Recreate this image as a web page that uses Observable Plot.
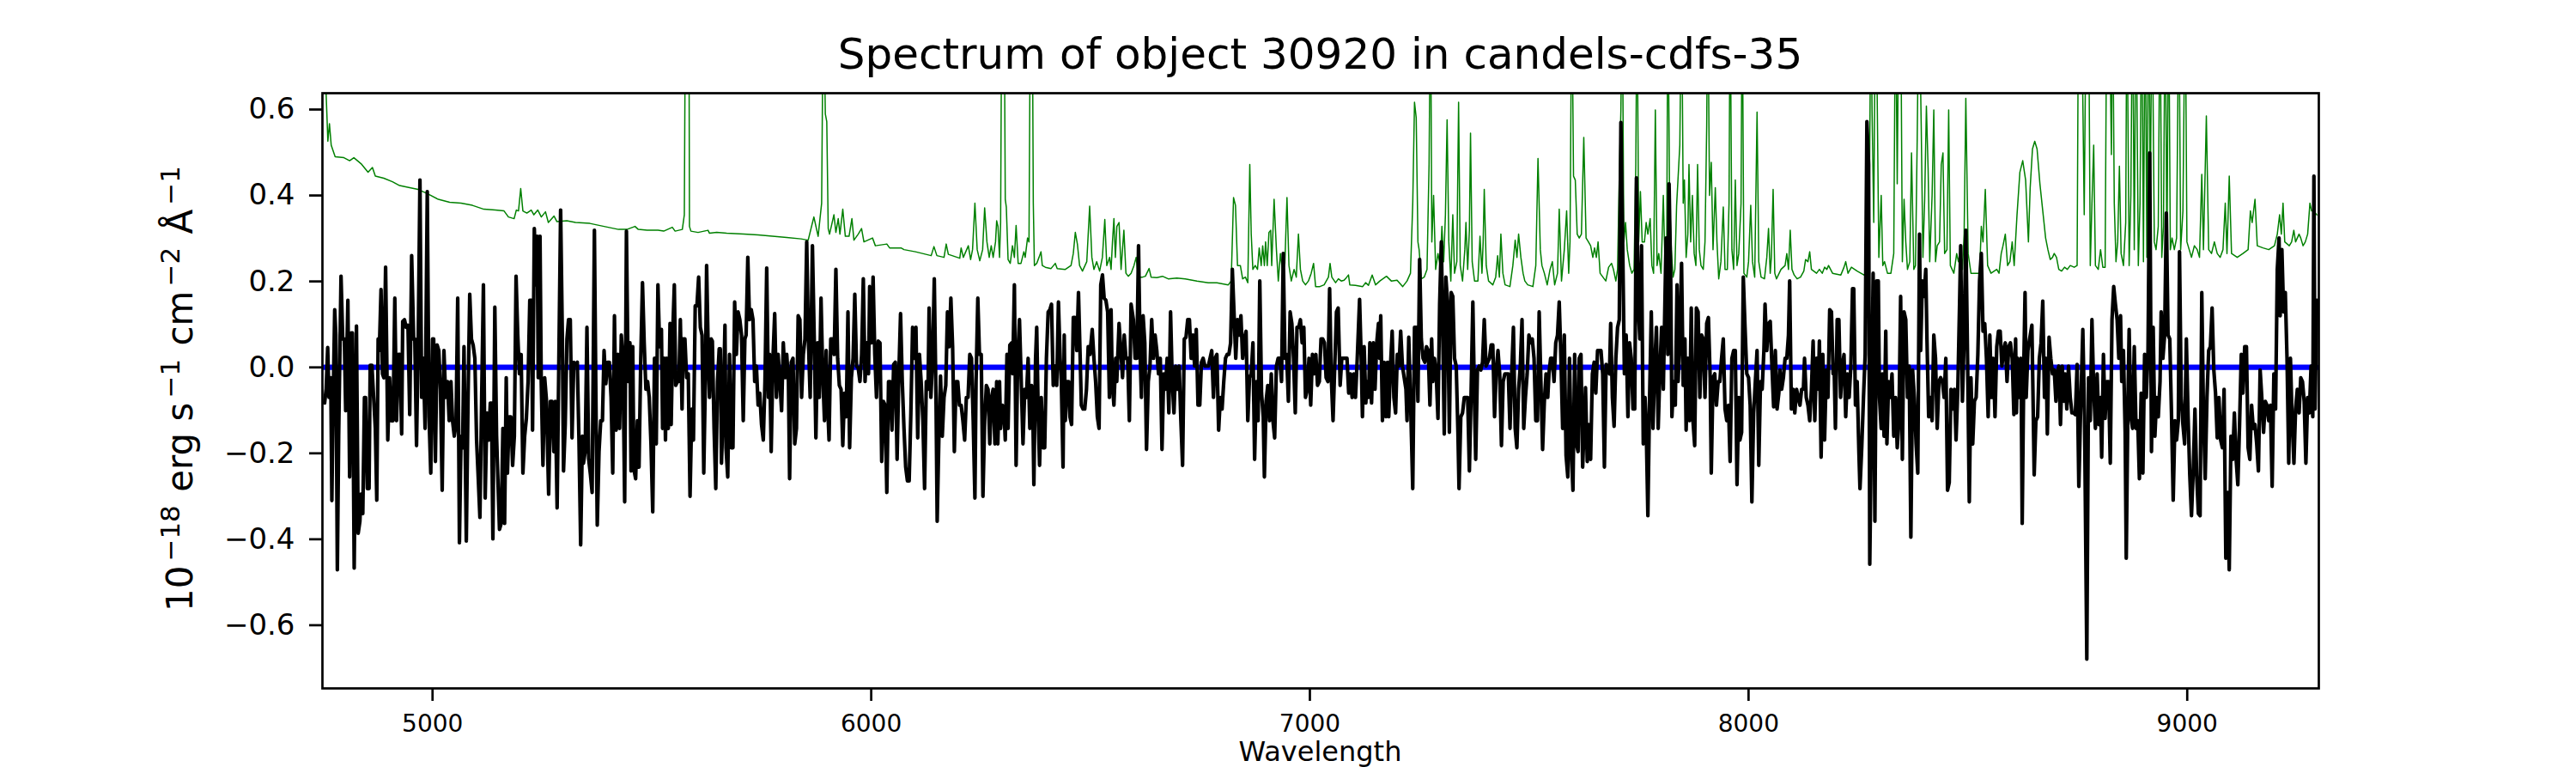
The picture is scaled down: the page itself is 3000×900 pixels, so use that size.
<!DOCTYPE html>
<html><head><meta charset="utf-8">
<script src="https://cdn.jsdelivr.net/npm/d3@7"></script>
<script src="https://cdn.jsdelivr.net/npm/@observablehq/plot@0.6"></script>
<style>html,body{margin:0;padding:0;background:#fff;} svg{display:block;}</style>
</head><body><div id="chart"></div><script>
// Observed flux (black), [wavelength Å, flux 1e-18 erg/s/cm2/Å]
const fluxPoints = [
[4754,-0.083],[4757.5,-0.05],[4761,0.046],[4764,-0.07],[4768,-0.024],[4770.5,-0.31],[4773,-0.106],[4777,0.134],[4779.6,0.075],[4783,-0.471],[4786,-0.16],[4791.4,0.212],[4795.3,0.066],[4799,0.066],[4802,-0.101],[4807,0.156],[4811,-0.255],[4815,0.08],[4817.4,0.08],[4821.4,-0.467],[4826.6,0.096],[4830.5,-0.386],[4834.4,-0.358],[4837,-0.295],[4841,-0.34],[4844.8,-0.07],[4847.4,-0.07],[4851.3,-0.282],[4855.3,-0.282],[4857.9,0.005],[4861.8,0.005],[4865.7,-0.07],[4869.6,-0.142],[4872.9,-0.309],[4876,0.066],[4878.7,0.039],[4882.6,0.181],[4886,-0.015],[4889,-0.024],[4893,0.233],[4895.7,0.021],[4898,-0.169],[4902,-0.024],[4906,-0.124],[4910,-0.124],[4914,0.161],[4918,-0.124],[4922,0.03],[4925.7,0.03],[4929.6,-0.155],[4932,0.107],[4936,0.111],[4940,0.093],[4944,0.098],[4948,-0.11],[4952.4,0.26],[4957,0.066],[4959.6,0.066],[4963.5,-0.182],[4967.4,0.066],[4971.3,0.436],[4975.2,-0.07],[4979,0.021],[4983,-0.142],[4988,0.409],[4992,-0.115],[4996,-0.246],[5000,0.066],[5002.6,0.066],[5006.5,-0.219],[5010.4,0.052],[5014.3,0.039],[5018,-0.051],[5022,-0.286],[5026,0.039],[5030,-0.07],[5034,-0.033],[5038,-0.124],[5042,-0.033],[5045.6,-0.124],[5049.6,-0.16],[5053.5,-0.133],[5057.4,0.161],[5061.3,-0.408],[5065,-0.16],[5068.5,-0.187],[5071.7,0.048],[5077,-0.404],[5081,-0.07],[5084.8,0.17],[5088.7,0.066],[5092.6,0.052],[5096.5,0.021],[5100.4,-0.169],[5104.3,-0.259],[5108,-0.349],[5112,-0.07],[5116,0.192],[5120,-0.304],[5124,-0.106],[5127.8,-0.169],[5131.7,-0.083],[5134.3,-0.083],[5137.6,-0.399],[5142,0.14],[5146,-0.16],[5148.7,-0.25],[5152.6,-0.377],[5156.5,-0.363],[5160.4,-0.142],[5164.3,-0.363],[5168,-0.024],[5170.8,-0.246],[5174.7,-0.115],[5178.6,-0.115],[5182.6,-0.228],[5186.5,-0.16],[5190.4,0.212],[5194.3,0.075],[5198,-0.015],[5202,0.03],[5206,-0.246],[5210,-0.16],[5213.9,-0.119],[5217.8,-0.033],[5221.7,0.156],[5225.6,0.156],[5228,-0.146],[5232,0.323],[5236,0.192],[5238.6,0.305],[5241,-0.024],[5245,0.305],[5247.8,-0.033],[5251.7,-0.228],[5255.6,-0.024],[5259.5,-0.074],[5264.7,-0.295],[5268.6,-0.079],[5272.5,-0.079],[5276.4,-0.196],[5280,-0.079],[5284,-0.327],[5288,0.021],[5292,0.366],[5296,0.066],[5298.6,-0.241],[5302.5,-0.133],[5306.4,0.066],[5310,0.111],[5314,0.111],[5318,-0.164],[5322,0.012],[5326,0.007],[5330,0.012],[5333.8,-0.169],[5337.7,-0.413],[5341.6,-0.16],[5344,-0.223],[5348,-0.196],[5352,0.093],[5356,-0.214],[5360,-0.25],[5363.8,-0.291],[5369,0.319],[5373,-0.133],[5375.5,-0.367],[5379.5,-0.196],[5383.4,-0.124],[5387.3,-0.124],[5391,0.039],[5395,-0.038],[5399,0.012],[5403,0.012],[5407,-0.07],[5410.8,-0.246],[5414.7,0.12],[5418.6,-0.146],[5422.5,0.03],[5426.4,-0.142],[5430.3,0.075],[5434,0.021],[5438,-0.313],[5442,0.317],[5446,-0.033],[5450,0.057],[5452.5,-0.241],[5456.4,0.048],[5459,-0.237],[5463,-0.259],[5467,-0.124],[5470.7,-0.232],[5474.7,0.021],[5478.6,0.197],[5482.5,0.057],[5486.4,-0.051],[5490.3,-0.033],[5494,-0.07],[5498,-0.178],[5502,-0.336],[5506,0.021],[5510,-0.178],[5513.8,0.192],[5517.7,0.048],
[5521.8,0.088],[5524.4,-0.142],[5528.3,0.021],[5531,-0.169],[5533.6,0.021],[5537.5,-0.142],[5541.4,0.102],[5544,-0.133],[5548,0.093],[5551.2,0.192],[5554.4,-0.042],[5558.3,-0.033],[5561.6,-0.033],[5564.9,0.111],[5568.8,-0.097],[5571.4,0.066],[5575.3,0.066],[5579.2,-0.024],[5583,-0.015],[5587,-0.3],[5591,-0.097],[5594.8,-0.169],[5598.8,0.143],[5602.7,0.143],[5606.6,0.21],[5610.5,0.093],[5614.4,0.075],[5618.3,-0.246],[5622.2,-0.015],[5624.8,0.237],[5628.8,0.021],[5631.4,-0.07],[5635.3,0.066],[5637.9,0.061],[5641.8,-0.142],[5645.7,-0.282],[5649.6,-0.033],[5653.5,0.043],[5656,0.043],[5658.7,-0.223],[5662.7,-0.088],[5666.6,0.098],[5669,-0.187],[5673,-0.255],[5677,0.03],[5681,-0.187],[5684.8,-0.187],[5688.7,0.152],[5692.6,0.03],[5696.6,0.129],[5700.5,0.111],[5704.4,0.075],[5708.3,-0.124],[5712,0.066],[5714.8,0.075],[5718.7,0.256],[5722.6,0.111],[5726.6,0.134],[5730.5,0.111],[5734.4,-0.033],[5738.3,0.003],[5742.2,-0.088],[5746,-0.06],[5750,-0.133],[5754,-0.169],[5757.8,-0.033],[5761.8,0.231],[5765.7,-0.07],[5768.3,0.03],[5772,-0.196],[5776,0.021],[5780,0.125],[5784,-0.07],[5787.8,0.03],[5791.8,-0.033],[5795.7,-0.101],[5799.6,0.057],[5803.5,-0.024],[5807.4,0.03],[5811.3,-0.033],[5814,-0.259],[5817.8,0.012],[5821.7,0.021],[5825.7,-0.178],[5829.6,-0.142],[5833.5,0.12],[5837.4,0.111],[5841.3,-0.07],[5845.2,0.03],[5849,0.066],[5853,0.292],[5857,0.057],[5860.9,-0.07],[5866,0.283],[5870,0.075],[5873.9,-0.164],[5877.8,0.057],[5881.7,-0.07],[5885.6,0.161],[5889.5,-0.015],[5893.5,-0.124],[5897.4,0.039],[5900,-0.07],[5903.9,-0.169],[5907.8,0.066],[5911.7,0.066],[5915.6,0.03],[5919.5,0.228],[5923.5,0.021],[5927.4,-0.042],[5931.3,-0.051],[5935.2,-0.182],[5939,-0.06],[5943,-0.115],[5947,0.129],[5950.8,-0.187],[5954.8,-0.024],[5958.7,0.021],[5962.6,0.17],[5966.5,0.003],[5970.4,-0.002],[5974.3,-0.033],[5978.2,0.03],[5982,0.206],[5986,-0.033],[5990,0.057],[5993.9,-0.015],[5996.5,0.188],[6000.4,0.057],[6004.3,0.21],[6008.2,0.03],[6012,-0.07],[6016,0.061],[6020,0.057],[6023.9,-0.219],[6027.8,-0.079],[6031.7,-0.088],[6035.6,-0.291],[6039.5,-0.033],[6043.4,-0.033],[6047.3,-0.146],[6051.2,0.007],[6055,0.012],[6059,-0.214],[6063,-0.015],[6066.9,0.125],[6070.8,-0.033],[6074.7,-0.142],[6078.6,-0.232],[6082.5,-0.264],[6086.5,-0.264],[6090.4,-0.106],[6094.3,0.093],[6098,0.021],[6102,0.093],[6106,-0.164],[6110,0.03],[6113.8,-0.033],[6117.8,-0.124],[6121.7,-0.282],[6125.6,-0.033],[6129.5,-0.051],[6132,0.138],[6136,-0.07],[6140,0.021],[6143.8,0.206],[6147.7,-0.07],[6150.4,-0.358],[6154.3,-0.16],[6158,-0.02],[6162,-0.16],[6166,-0.07],[6170,-0.042],[6173.8,0.129],[6177.7,0.048],[6181.6,0.161],[6185.6,0.048],[6189.5,-0.196],[6193.4,-0.033],[6197.3,-0.033],[6201.2,-0.088],[6205,-0.088],[6209,-0.124],[6213,-0.169],[6216.9,-0.07],[6220.8,-0.07],[6224.7,0.03],[6228.6,0.021],[6232.5,-0.124],[6236.4,-0.304],[6239,-0.033],[6243,0.161],[6246.8,0.03],[6250.8,0.03],[6254.7,-0.3],[6258.6,-0.124],[6262.5,-0.042],[6266.4,-0.051],[6270.3,-0.178],[6274.2,-0.07],[6278,-0.051],[6282,-0.178],
[6286,-0.033],[6288.6,-0.178],[6292.5,-0.033],[6295,-0.142],[6299,-0.088],[6303,-0.106],[6305.6,-0.169],[6309.5,0.03],[6312,-0.142],[6316,0.052],[6320,0.057],[6322.5,-0.015],[6326.4,0.192],[6330.3,-0.228],[6334,0.021],[6338,0.111],[6342,-0.033],[6346,-0.178],[6350,-0.051],[6353.8,-0.07],[6357.7,0.021],[6361.6,-0.142],[6365.5,-0.042],[6368,-0.07],[6370.8,-0.273],[6374.7,0.021],[6377.3,0.093],[6381,-0.124],[6383.8,-0.228],[6387.7,-0.07],[6391.6,-0.187],[6395.5,-0.187],[6399.4,0.021],[6403.4,0.129],[6407.3,0.134],[6411,0.147],[6415,-0.042],[6419,0.003],[6423,-0.042],[6426.8,0.152],[6430.7,0.021],[6433.4,-0.033],[6437.3,-0.232],[6440,0.075],[6442.5,-0.124],[6446.4,-0.033],[6450.3,-0.033],[6453,-0.115],[6456.8,-0.133],[6460.7,0.116],[6464.6,0.116],[6468.6,0.039],[6472.5,0.174],[6476.4,0.021],[6479,-0.088],[6483,-0.097],[6486.8,-0.097],[6490.7,-0.051],[6494.6,0.048],[6498.6,0.03],[6503.8,0.088],[6507.7,0.021],[6511.6,-0.033],[6515.5,-0.115],[6519.4,-0.142],[6523.3,0.192],[6527.2,0.215],[6531,0.161],[6535,0.156],[6539,0.129],[6543,-0.07],[6546.8,0.134],[6549.4,-0.033],[6553.3,-0.088],[6557.2,0.021],[6559.8,-0.033],[6565,0.102],[6569,0.039],[6573,-0.024],[6576.8,0.075],[6580.7,0.021],[6584.6,0.021],[6588.5,-0.124],[6592.4,0.147],[6597.7,0.111],[6601.6,0.021],[6605.5,0.021],[6609.4,0.283],[6613.3,0.021],[6616,-0.07],[6619.8,0.12],[6623.7,0.057],[6627.6,-0.191],[6631.6,-0.033],[6635.5,0.003],[6639.4,0.111],[6643.3,0.021],[6647.2,0.075],[6651,0.039],[6655,-0.015],[6659,0.021],[6662.9,-0.191],[6666.8,-0.015],[6670.7,-0.051],[6674.6,0.021],[6678.5,-0.106],[6682.4,0.129],[6686.3,-0.033],[6690.2,-0.106],[6694,0.003],[6698,-0.051],[6702,0.003],[6705.9,-0.124],[6709.8,-0.228],[6713.7,0.066],[6717.6,0.07],[6721.5,0.111],[6725.4,0.111],[6729.4,0.021],[6733.3,0.075],[6737.2,0.003],[6741,0.088],[6745,-0.088],[6749,-0.088],[6752.8,0.012],[6756.7,0.021],[6760.7,0.003],[6764.6,0.003],[6768.5,0.003],[6772.4,0.021],[6776.3,0.039],[6780.2,-0.07],[6784,0.021],[6788,0.03],[6792,-0.146],[6795.9,-0.07],[6799.8,-0.097],[6803.7,-0.033],[6807.6,0.021],[6811.5,0.03],[6815.4,0.03],[6819.3,0.057],[6823.2,0.228],[6827,0.129],[6831,0.021],[6835,0.111],[6838.9,0.075],[6842.8,0.12],[6846.7,0.021],[6850.6,0.066],[6854.5,0.084],[6858.5,-0.124],[6862.4,-0.024],[6866.3,-0.015],[6870.2,0.057],[6874,-0.214],[6878,-0.033],[6882,-0.124],[6885.8,0.201],[6889.8,-0.06],[6893.7,-0.115],[6896.3,-0.255],[6900.2,-0.079],[6904,-0.042],[6908,-0.124],[6912,-0.015],[6915.8,-0.124],[6919.7,-0.164],[6923.7,0.003],[6927.6,0.021],[6931.5,0.021],[6935.4,-0.033],[6939.3,0.265],[6943.2,0.021],[6947,0.03],[6951,-0.079],[6955,0.129],[6958.9,0.102],[6962.8,0.021],[6966.7,-0.106],[6970.6,0.093],[6974.5,0.093],[6978.4,0.111],[6982.3,0.057],[6986.2,0.093],[6990,-0.07],[6994,-0.051],[6998,0.021],[7001.9,-0.088],[7005.8,0.03],[7009.7,-0.015],[7013.6,0.03],[7017.5,-0.042],[7021.5,-0.033],[7025.4,0.066],[7029.3,0.066],[7033.2,0.057],[7037,-0.024],[7041,-0.033],[7045,0.183],[7048.8,-0.024],[7052.8,-0.124],[7056.7,0.003],[7060.6,0.129],[7064.5,0.138],
[7069,-0.042],[7072.8,0.021],[7080.7,0.021],[7084.6,0.021],[7088.5,-0.06],[7092.4,-0.015],[7096.3,-0.07],[7100.2,-0.015],[7104,-0.07],[7108,0.021],[7113.3,0.158],[7117,0.021],[7119.8,-0.115],[7123.7,0.048],[7127.6,-0.083],[7130,-0.033],[7134,-0.07],[7136.7,0.057],[7140.6,-0.083],[7144.6,0.057],[7148.5,-0.051],[7152.4,0.057],[7156.3,0.102],[7159,0.021],[7161.5,0.12],[7165.4,-0.124],[7169.3,0.012],[7173.3,-0.115],[7177,0.012],[7179.8,-0.115],[7183.7,0.003],[7187.6,0.084],[7191.5,-0.07],[7195.4,-0.106],[7199.3,0.03],[7203.2,0.003],[7207,0.084],[7211,0.003],[7215,-0.024],[7219,-0.051],[7221.5,-0.124],[7225.4,0.07],[7229.3,-0.07],[7234.5,-0.282],[7238.5,0.093],[7242.4,0.093],[7246.3,-0.079],[7250.2,0.251],[7254,0.066],[7258,0.021],[7262,0.012],[7265.8,0.048],[7269.7,0.039],[7273.7,-0.088],[7277.6,0.066],[7280.2,-0.033],[7284,0.021],[7288,-0.015],[7292,-0.119],[7295.8,0.147],[7299.7,0.292],[7303.7,0.03],[7306.3,-0.155],[7310,0.21],[7314,0.147],[7318,-0.151],[7322,0.174],[7325.8,0.165],[7329.7,0.021],[7333.6,0.003],[7337.5,-0.151],[7340,-0.282],[7344,-0.115],[7348,-0.106],[7352,-0.07],[7355.8,-0.07],[7359.7,-0.07],[7363.6,-0.241],[7367.5,-0.06],[7371.5,0.152],[7375.4,-0.088],[7378,-0.214],[7382,-0.006],[7385.8,0.003],[7389.7,-0.006],[7393.6,0.012],[7397.5,0.111],[7401.5,0.003],[7405.4,0.012],[7409.3,0.021],[7413.2,0.052],[7417,0.052],[7421,-0.115],[7425,-0.006],[7428.8,0.039],[7432.7,-0.015],[7436.7,-0.182],[7440.6,-0.033],[7444.5,-0.015],[7452.3,-0.015],[7456.2,-0.142],[7460,-0.015],[7464,0.093],[7468,-0.142],[7471.9,-0.187],[7475.8,-0.051],[7479.7,0.003],[7483.6,0.111],[7487.5,-0.142],[7491.4,-0.07],[7495.3,-0.015],[7499.3,0.075],[7503,0.057],[7507,0.066],[7511,0.021],[7515,-0.124],[7518.8,-0.124],[7522.7,0.129],[7526.6,-0.033],[7530.5,-0.191],[7534.5,-0.079],[7538.4,-0.015],[7542.3,-0.07],[7545,-0.015],[7548.8,0.021],[7552.7,0.021],[7556.6,-0.033],[7560.5,0.057],[7564.5,0.075],[7568.4,0.152],[7572.3,0.021],[7576.2,-0.142],[7580,0.075],[7584,-0.205],[7588,-0.255],[7591.8,0.021],[7595.7,-0.187],[7599.7,-0.286],[7603.6,0.03],[7607.5,-0.178],[7611.4,-0.196],[7614,0.021],[7618,0.03],[7621.8,-0.232],[7624.4,-0.16],[7628.3,-0.047],[7632.3,-0.219],[7636,-0.133],[7640,-0.214],[7644,-0.015],[7648,0.012],[7651.8,-0.06],[7655.8,0.039],[7663.6,0.039],[7667.5,-0.015],[7671.4,-0.232],[7675.3,0.007],[7683,-0.015],[7685.7,0.102],[7689.6,-0.07],[7693.5,-0.137],[7697.5,0.021],[7701.4,0.093],[7705.3,0.111],[7709,0.57],[7713,0.292],[7717,-0.015],[7721,0.075],[7725,-0.115],[7728.8,0.057],[7732.7,0.021],[7736.6,-0.097],[7740.5,-0.097],[7744.4,0.441],[7748.3,0.147],[7752.2,0.066],[7756,0.283],[7760,-0.178],[7764,-0.07],[7766.6,-0.133],[7770.5,-0.345],[7774.4,-0.07],[7778.3,0.129],[7782.2,-0.142],[7786,0.003],[7790,0.093],[7794,-0.142],[7798,-0.006],[7801.8,0.093],[7805.7,-0.051],[7808.3,0.093],[7812,0.301],[7816,0.03],[7818.8,0.427],[7822.6,0.201],[7825.3,-0.115],[7829,-0.033],[7833,-0.088],[7837,0.192],
[7839.4,-0.033],[7843.3,0.066],[7847.3,0.242],[7851,-0.042],[7855,0.066],[7857.7,-0.146],[7861.6,0.021],[7865.5,-0.124],[7869.4,0.138],[7873.3,-0.124],[7877.2,-0.182],[7881,0.138],[7885,0.129],[7889,-0.07],[7892.9,0.075],[7896.8,0.066],[7900.7,-0.07],[7904.6,0.102],[7908.5,0.116],[7912.5,-0.024],[7915,-0.246],[7919,-0.024],[7922.9,-0.015],[7926.8,-0.088],[7930.7,-0.033],[7934.6,-0.033],[7938.5,0.021],[7942.4,0.066],[7946.4,-0.097],[7950.3,-0.124],[7954.2,-0.088],[7958,-0.219],[7962,0.021],[7966,0.039],[7969.8,0.039],[7973.7,-0.273],[7977.7,-0.07],[7980.3,-0.169],[7984.2,-0.151],[7988,0.21],[7992,0.093],[7996,-0.015],[8000,-0.024],[8003.7,-0.088],[8007.6,-0.313],[8011.6,-0.106],[8015.5,-0.033],[8019.4,0.039],[8023.3,-0.228],[8027.2,-0.033],[8031,-0.051],[8035,0.039],[8037.6,0.147],[8041.6,0.039],[8045.5,0.102],[8049.4,0.107],[8053.3,0.003],[8057.2,-0.092],[8061,0.039],[8065,-0.097],[8069,-0.06],[8071.5,-0.006],[8075.5,-0.051],[8079.4,-0.024],[8083.3,0.021],[8087.2,0.021],[8091,0.075],[8093.7,0.201],[8097.6,-0.097],[8101.5,-0.051],[8105.4,-0.106],[8109.4,-0.051],[8113.3,-0.07],[8117.2,-0.088],[8121,-0.051],[8125,-0.051],[8127.6,0.021],[8131.5,-0.07],[8135.4,-0.088],[8139.4,-0.124],[8143.3,-0.051],[8147.2,0.061],[8151,-0.124],[8155,0.021],[8159,-0.051],[8161.5,0.061],[8165.4,-0.209],[8169.3,0.03],[8173.3,-0.169],[8177.2,-0.006],[8181,-0.07],[8185,0.134],[8189,0.129],[8192.8,-0.015],[8195.4,-0.015],[8198,-0.142],[8202,0.111],[8205.9,0.111],[8209.8,-0.07],[8213.7,0.003],[8217.6,0.03],[8221.5,-0.115],[8225.4,-0.015],[8229.3,-0.07],[8233.2,0.003],[8237,0.183],[8239.8,0.183],[8243.7,-0.088],[8247.6,-0.033],[8251.5,-0.196],[8254,-0.282],[8258,-0.187],[8262,-0.07],[8265.8,0.03],[8269.8,0.572],[8273.7,0.472],[8276.3,-0.458],[8280.2,-0.124],[8284,0.219],[8288,-0.358],[8292,0.201],[8295.8,0.201],[8298.4,-0.07],[8302.4,-0.142],[8305,-0.015],[8308.9,-0.16],[8312.8,0.084],[8315.4,-0.178],[8319.3,-0.033],[8323.2,-0.07],[8327,-0.015],[8331,-0.16],[8335,-0.07],[8338.9,-0.187],[8342.8,-0.124],[8346.7,0.165],[8350.6,-0.214],[8354.5,0.129],[8358.4,0.111],[8362.3,-0.07],[8366.2,0.003],[8370,-0.395],[8374,-0.006],[8378,-0.07],[8381.9,-0.178],[8385.8,-0.246],[8389.7,0.31],[8392.3,0.039],[8396.2,0.201],[8400,0.165],[8404,0.228],[8406.7,0.066],[8410.6,-0.115],[8414.5,-0.07],[8418.4,-0.124],[8422.3,0.075],[8426.2,0.021],[8430,-0.142],[8434,-0.033],[8438,-0.024],[8441.9,-0.033],[8445.8,-0.07],[8449.7,0.021],[8453.6,-0.286],[8457.5,-0.268],[8461.4,-0.051],[8465.4,-0.097],[8469.3,-0.051],[8473,-0.169],[8477,-0.051],[8481,0.147],[8483.6,0.283],[8487.5,-0.079],[8491.4,0.066],[8495.3,0.319],[8499.3,0.021],[8503.2,-0.313],[8507,-0.024],[8511,-0.178],[8514.9,-0.079],[8518.8,-0.07],[8522.7,0.03],[8526.6,0.201],[8530.6,0.265],[8534.5,0.084],[8538.4,0.102],[8542.3,0.021],[8546.2,-0.115],[8550,0.075],[8554,-0.07],[8558,0.021],[8561.8,-0.115],[8565.8,0.048],[8569.7,0.084],[8573.6,0.084],[8577.5,0.003],[8581.4,0.039],[8585.3,0.057],[8589.2,-0.033],[8593,0.048],[8597,0.057],[8601,0.021],[8604.9,-0.11],[8608.8,0.066],
[8610.7,-0.106],[8613.3,0.021],[8617.2,-0.07],[8621.1,0.021],[8623.8,-0.363],[8627.7,0.021],[8630.3,0.174],[8632.9,-0.07],[8636.8,0.039],[8640.7,0.066],[8645.9,0.098],[8648.5,-0.07],[8651.1,-0.25],[8655,-0.124],[8659,-0.115],[8662.9,0.021],[8666.8,0.057],[8670.7,0.154],[8674.6,-0.07],[8678.5,0.021],[8681.1,-0.155],[8685,0.07],[8689,0.021],[8692.9,-0.015],[8696.8,-0.006],[8700.7,-0.079],[8703.3,-0.015],[8707.2,0.003],[8711.1,-0.133],[8715,0.003],[8719,-0.079],[8721.6,-0.015],[8725.5,-0.097],[8729.4,0.003],[8733.3,-0.07],[8737.2,-0.106],[8741,-0.106],[8745,-0.11],[8749,0.007],[8752.9,-0.277],[8756.8,-0.106],[8762,0.088],[8765.9,-0.115],[8771.1,-0.679],[8775,-0.024],[8779,-0.124],[8782.8,0.111],[8786.8,-0.051],[8790.7,-0.142],[8794.6,-0.015],[8798.5,-0.133],[8802.4,-0.07],[8805,-0.209],[8809,0.03],[8812.8,-0.119],[8816.7,-0.033],[8820.7,-0.033],[8824.6,-0.223],[8828.5,0.111],[8832.4,0.188],[8836.3,0.147],[8840.2,0.111],[8844.1,0.021],[8848,0.12],[8850.7,-0.033],[8854.6,0.039],[8858.5,-0.151],[8861,-0.444],[8865,-0.07],[8867.6,0.088],[8871.5,-0.115],[8875.4,-0.142],[8879.3,0.048],[8883.3,-0.142],[8887.2,-0.124],[8891,-0.259],[8895,-0.06],[8898.9,-0.246],[8902.8,0.03],[8906.7,-0.07],[8910.6,0.039],[8914.5,0.499],[8918.5,-0.196],[8922.4,0.093],[8926.3,-0.16],[8930.2,-0.07],[8934,-0.115],[8938,-0.033],[8940.6,0.129],[8944.5,0.021],[8948.5,0.075],[8952.4,0.359],[8956.3,0.075],[8960.2,0.066],[8964.1,-0.106],[8968,-0.309],[8972,-0.124],[8975.8,-0.169],[8979.7,-0.124],[8982.4,0.269],[8986.3,-0.07],[8990.2,-0.133],[8994.1,-0.178],[8998,0.066],[9002,-0.115],[9005.8,-0.25],[9009.7,-0.345],[9013.7,-0.241],[9017.6,-0.097],[9021.5,-0.25],[9025.4,-0.34],[9029.3,-0.345],[9033.2,0.174],[9037,-0.106],[9041,-0.259],[9045,-0.07],[9048.9,0.039],[9052.8,0.048],[9056.7,0.138],[9060.6,-0.006],[9064.5,-0.06],[9068.4,-0.164],[9072.3,-0.07],[9076.2,-0.169],[9080.2,-0.187],[9084,-0.051],[9088,-0.444],[9091.9,-0.291],[9095.8,-0.471],[9099.7,-0.16],[9103.6,-0.214],[9107.5,-0.106],[9111.5,-0.214],[9115.4,-0.273],[9119.3,-0.133],[9123.2,0.03],[9127,-0.06],[9131,0.048],[9135,0.048],[9138.8,-0.187],[9142.7,-0.214],[9146.7,-0.088],[9150.6,-0.142],[9154.5,-0.133],[9158.4,-0.178],[9162.3,-0.241],[9166.2,-0.006],[9170,-0.07],[9174,-0.151],[9178,-0.079],[9181.9,-0.088],[9185.8,-0.124],[9189.7,-0.088],[9193.6,-0.277],[9197.5,-0.015],[9201.4,-0.097],[9205.3,0.228],[9209.3,0.301],[9211.9,0.12],[9215.8,0.274],[9219.7,0.129],[9223.6,0.174],[9227.5,0.021],[9231.4,-0.223],[9235.3,0.021],[9239.2,-0.124],[9243.2,-0.223],[9247,-0.097],[9251,-0.051],[9255,-0.106],[9258.8,-0.024],[9262.7,-0.033],[9266.6,-0.079],[9270.5,-0.223],[9274.5,-0.07],[9278.4,-0.106],[9282.3,0.003],[9286.2,-0.115],[9288.8,0.445],[9291.4,-0.097],[9295.3,0.156]
];

// Flux uncertainty (green), [wavelength Å, error]; sky-line spikes run off the top
const errorPoints = [
[4754,0.9],[4757.5,0.635],[4761.4,0.526],[4765,0.567],[4769,0.517],[4778,0.49],[4798,0.488],[4811,0.481],[4820.7,0.488],[4837,0.474],[4853,0.454],[4863,0.465],[4869.6,0.445],[4889,0.44],[4908.7,0.432],[4925,0.423],[4948,0.418],[4967,0.414],[4987,0.405],[5013,0.391],[5039,0.384],[5065,0.382],[5091,0.377],[5117,0.368],[5143,0.366],[5163,0.364],[5173,0.35],[5186,0.346],[5191,0.366],[5196,0.364],[5201,0.416],[5206,0.364],[5215,0.359],[5225,0.366],[5231,0.355],[5240,0.366],[5248,0.35],[5257.5,0.362],[5264,0.337],[5277,0.352],[5283.6,0.339],[5306,0.341],[5326,0.337],[5358.6,0.335],[5391,0.328],[5424,0.321],[5443,0.321],[5461.6,0.328],[5469,0.321],[5489,0.319],
[5514,0.319],[5527,0.317],[5546.6,0.326],[5553,0.317],[5569.4,0.321],[5574,0.355],[5576.6,0.9],[5580.5,0.9],[5584.4,0.9],[5585.7,0.328],[5589,0.317],[5605.3,0.314],[5628,0.319],[5631.4,0.312],[5647.7,0.314],[5670.5,0.312],[5709.6,0.31],[5742,0.308],[5774.8,0.305],[5807.4,0.302],[5840,0.299],[5856.3,0.296],[5869.3,0.35],[5879,0.305],[5887,0.382],[5890.9,0.9],[5895.4,0.59],[5898.7,0.572],[5902,0.323],[5905,0.31],[5915,0.355],[5919.5,0.314],[5924.8,0.346],[5928.7,0.31],[5935.2,0.368],[5941,0.305],[5949.5,0.305],[5956,0.346],[5960.6,0.296],[5970.4,0.31],[5978,0.323],[5983.4,0.292],[6003,0.301],[6009.5,0.283],[6035.6,0.287],[6042,0.278],[6068,0.278],[6074.7,0.274],[6100.8,0.269],[6136.7,0.26],[6143,0.281],[6149.7,0.26],[6166,0.256],[6171,0.287],[6175.8,0.263],[6201.9,0.254],[6205,0.278],[6210,0.256],[6221.4,0.283],[6226.6,0.251],[6231,0.274],[6236.4,0.382],[6241.6,0.274],[6247.5,0.248],[6254,0.274],[6258.6,0.371],[6263.8,0.292],[6269,0.256],[6273.6,0.283],[6278,0.256],[6283.4,0.292],
[6286,0.341],[6289,0.328],[6292.5,0.256],[6295,0.337],[6297.7,0.9],[6303,0.9],[6305.6,0.391],[6308,0.373],[6312,0.251],[6317,0.242],[6322,0.283],[6326.4,0.256],[6330.3,0.33],[6335,0.242],[6341.4,0.242],[6348,0.269],[6351,0.256],[6356.4,0.301],[6359.7,0.292],[6363,0.9],[6367,0.9],[6369.5,0.382],[6372,0.237],[6377.3,0.242],[6382.5,0.256],[6387,0.269],[6390,0.237],[6397,0.233],[6410,0.23],[6419.7,0.242],[6424,0.23],[6442.5,0.228],[6455.5,0.237],[6460.7,0.265],[6465.3,0.314],[6470,0.287],[6475,0.237],[6481.6,0.224],[6491.4,0.246],[6498,0.375],[6503,0.256],[6507.7,0.228],[6514,0.246],[6520.7,0.224],[6527,0.256],[6532.5,0.344],[6537,0.237],[6543.5,0.256],[6546.8,0.228],[6550,0.292],[6553.3,0.346],[6556.6,0.256],[6560,0.328],[6565,0.337],[6569.6,0.228],[6576,0.319],[6580.7,0.219],[6586,0.212],[6592.4,0.219],[6599,0.237],[6604,0.256],[6608.7,0.21],[6618.5,0.21],[6625,0.212],[6633.5,0.23],[6638,0.21],[6651,0.209],[6664,0.212],[6677,0.206],[6696.8,0.208],[6716,0.206],[6742.4,0.201],[6768.5,0.197],[6788,0.197],[6814,0.192],[6820.6,0.201],[6826,0.395],[6830.4,0.377],[6835,0.237],[6841.5,0.237],[6846.7,0.206],[6853,0.21],[6858.5,0.197],[6863,0.472],[6866.3,0.31],[6870,0.228],[6875.4,0.237],[6880.6,0.228],[6884.5,0.278],[6889,0.237],[6892.4,0.283],[6896.3,0.237],[6899,0.292],[6902.8,0.237],[6906.7,0.314],[6910.6,0.319],[6913,0.237],[6918.4,0.391],[6923.7,0.274],[6928,0.201],[6932.8,0.265],[6938,0.219],[6943,0.242],[6947.8,0.395],[6952.3,0.237],[6957.6,0.201],[6964,0.228],[6969,0.21],[6973.9,0.31],[6978.4,0.228],[6983.6,0.201],[6990,0.192],[6996.7,0.201],[7003,0.219],[7008.4,0.242],[7013,0.188],[7022.8,0.188],[7032.5,0.192],[7042.3,0.21],[7046,0.242],[7050,0.21],[7058.6,0.197],
[7065,0.206],[7071.5,0.201],[7078,0.203],[7083.3,0.209],[7088,0.215],[7091,0.192],[7104,0.191],[7120.4,0.188],[7127,0.197],[7133.5,0.191],[7142,0.215],[7149.8,0.192],[7159.6,0.201],[7174.6,0.212],[7185.6,0.201],[7198.7,0.203],[7211.7,0.188],[7221.5,0.201],[7229.3,0.219],[7234.5,0.382],[7238.5,0.617],[7242.4,0.581],[7246.3,0.292],[7249,0.274],[7254,0.206],[7260.6,0.21],[7267,0.228],[7271.7,0.472],[7275,0.9],[7278,0.292],[7282,0.4],[7286.7,0.228],[7292,0.265],[7297,0.237],[7301,0.328],[7305,0.246],[7309,0.355],[7312.8,0.576],[7316.7,0.292],[7321.3,0.201],[7325.8,0.355],[7329.7,0.219],[7335,0.246],[7339,0.617],[7342.8,0.237],[7348,0.201],[7353.2,0.274],[7355.8,0.337],[7359.7,0.228],[7363.6,0.319],[7366.2,0.545],[7370,0.246],[7375.4,0.201],[7383,0.201],[7387.8,0.305],[7392.3,0.219],[7395,0.292],[7397.5,0.414],[7402,0.237],[7407.3,0.201],[7417,0.192],[7423.6,0.21],[7428,0.26],[7432,0.21],[7435.4,0.31],[7440,0.219],[7445,0.192],[7456,0.188],[7462.7,0.237],[7468,0.296],[7472,0.256],[7475.8,0.31],[7481,0.256],[7486,0.219],[7490,0.201],[7496.6,0.192],[7508.4,0.188],[7515,0.237],[7520,0.486],[7525.3,0.274],[7529,0.237],[7534.5,0.219],[7541,0.192],[7547.5,0.228],[7552.7,0.246],[7558,0.192],[7564.5,0.219],[7568.4,0.368],[7573.6,0.201],[7580,0.274],[7585.3,0.364],[7590,0.219],[7593,0.292],[7597,0.9],[7601,0.445],[7605,0.436],[7609.4,0.31],[7614,0.301],[7619,0.31],[7624.4,0.535],[7629.6,0.301],[7635,0.292],[7640,0.283],[7645,0.256],[7649,0.278],[7653,0.256],[7657,0.292],[7661.6,0.219],[7668,0.21],[7674.6,0.201],[7681,0.233],[7687.7,0.242],[7692,0.228],[7697.5,0.201],[7701.4,0.228],[7705.3,0.445],[7709,0.599],[7712,0.9],[7715.7,0.292],[7719.6,0.337],[7723.5,0.274],[7729,0.237],[7734,0.219],[7739,0.228],[7743,0.472],[7745.7,0.9],[7749.6,0.292],[7753.5,0.409],[7757.5,0.292],[7762.7,0.292],[7766.6,0.337],[7770.5,0.31],[7775.7,0.346],[7779.6,0.237],[7783.5,0.219],[7787.5,0.599],[7791.4,0.237],[7795.3,0.265],[7800.5,0.219],[7805.7,0.4],[7809.6,0.237],[7813.5,0.274],[7816,0.9],[7820,0.391],[7824,0.274],[7828,0.21],[7832,0.228],[7836,0.377],
[7843.3,0.517],[7847.3,0.9],[7851,0.382],[7853.8,0.436],[7857.7,0.256],[7861.6,0.31],[7864.2,0.472],[7868,0.292],[7872,0.4],[7876,0.265],[7880,0.237],[7883.8,0.472],[7887.7,0.274],[7891.6,0.237],[7896.8,0.228],[7900.7,0.292],[7904.6,0.563],[7907,0.9],[7911,0.4],[7915,0.477],[7919,0.274],[7924.2,0.418],[7928,0.292],[7932,0.206],[7937,0.246],[7942.4,0.373],[7946.4,0.228],[7951.6,0.228],[7955.5,0.382],[7958,0.9],[7962,0.274],[7966,0.228],[7969.8,0.436],[7973.7,0.237],[7977.7,0.265],[7982.9,0.382],[7985.5,0.9],[7989.4,0.219],[7996,0.21],[8000,0.246],[8005,0.377],[8009,0.246],[8014,0.21],[8019.4,0.594],[8023.3,0.246],[8028.5,0.21],[8036.3,0.206],[8041.6,0.256],[8045.5,0.323],[8049.4,0.219],[8052,0.256],[8056,0.414],[8059.8,0.219],[8063.7,0.206],[8074,0.228],[8083.3,0.237],[8087.2,0.265],[8091,0.228],[8095,0.319],[8099,0.228],[8104,0.215],[8110.7,0.206],[8118.5,0.21],[8126,0.224],[8130,0.251],[8135.4,0.246],[8139.4,0.269],[8143.3,0.228],[8155,0.219],[8161.5,0.228],[8168,0.219],[8173.3,0.233],[8178.5,0.228],[8182.4,0.237],[8191.5,0.219],[8210.4,0.215],[8217.6,0.233],[8221.5,0.246],[8226.7,0.219],[8234.5,0.233],[8247.6,0.224],[8263,0.215],[8269.8,0.219],[8275,0.328],[8279,0.9],[8281.5,0.599],[8285.4,0.337],[8289.3,0.9],[8293.2,0.635],[8297,0.256],[8302.4,0.4],[8306,0.237],[8310,0.246],[8316.7,0.219],[8324.5,0.219],[8331,0.265],[8335,0.9],[8338.9,0.427],[8342.8,0.9],[8346.7,0.9],[8350.6,0.246],[8354.5,0.391],[8358.4,0.292],[8362.3,0.228],[8367.6,0.246],[8371.5,0.499],[8376.7,0.228],[8380.6,0.237],[8384.5,0.535],[8388.4,0.9],[8393.6,0.563],[8397.5,0.256],[8401.5,0.391],[8405.4,0.608],[8409.3,0.463],[8413,0.246],[8418.4,0.4],[8422.3,0.599],[8426.2,0.246],[8430,0.283],[8435.4,0.292],[8439.3,0.472],[8443.2,0.499],[8447,0.265],[8452.3,0.274],[8456.2,0.599],[8460,0.237],[8468,0.219],[8474.5,0.265],[8478.4,0.246],[8483.6,0.274],[8487.5,0.228],[8491.4,0.31],[8495.3,0.626],[8500.6,0.265],[8507,0.219],[8520,0.219],[8526.6,0.219],[8530.6,0.328],[8534.5,0.292],[8539.7,0.414],[8545,0.237],[8552.7,0.219],[8565.8,0.228],[8571,0.219],[8576,0.265],[8580,0.283],[8585.3,0.31],[8590.5,0.237],[8595.8,0.246],[8601,0.292],
[8605.5,0.237],[8612,0.355],[8618.5,0.454],[8625,0.481],[8631.6,0.436],[8638,0.292],[8642,0.418],[8647.2,0.508],[8652.4,0.526],[8657.7,0.508],[8664.2,0.427],[8670.7,0.364],[8677.2,0.301],[8682.4,0.274],[8687.7,0.251],[8692.9,0.256],[8696.8,0.265],[8702,0.256],[8707.2,0.228],[8713.7,0.224],[8720.3,0.233],[8726.8,0.228],[8733.3,0.237],[8742.4,0.233],[8749,0.237],[8752.2,0.9],[8758.7,0.9],[8765.2,0.355],[8769.8,0.9],[8775,0.9],[8779,0.237],[8782.8,0.382],[8786.8,0.517],[8790.7,0.237],[8797.2,0.228],[8802.4,0.274],[8807.6,0.233],[8812.8,0.233],[8816.7,0.9],[8822,0.9],[8827.2,0.495],[8829.8,0.9],[8833.7,0.382],[8837.6,0.246],[8841.5,0.292],[8845.4,0.468],[8849.3,0.265],[8854.6,0.237],[8859.8,0.337],[8862.4,0.9],[8867.6,0.237],[8871.5,0.4],[8875.4,0.9],[8879.3,0.274],[8883.3,0.9],[8888.5,0.237],[8892.4,0.382],[8896.3,0.9],[8900.2,0.246],[8904,0.9],[8908,0.256],[8912,0.9],[8915.8,0.382],[8919.8,0.9],[8925,0.292],[8928.9,0.274],[8934,0.328],[8938,0.9],[8942,0.256],[8945.8,0.328],[8949.8,0.9],[8953.7,0.256],[8957.6,0.9],[8961.5,0.274],[8965.4,0.301],[8970.6,0.274],[8975.8,0.301],[8981,0.9],[8985,0.274],[8990.2,0.364],[8995.4,0.9],[8999.3,0.292],[9004.5,0.274],[9009.7,0.256],[9016.3,0.283],[9022.8,0.274],[9028,0.256],[9033.2,0.449],[9037,0.274],[9043.6,0.585],[9048.9,0.274],[9055.4,0.265],[9061.9,0.292],[9068.4,0.265],[9075,0.256],[9081.5,0.274],[9086.7,0.382],[9090.6,0.265],[9095.8,0.445],[9101,0.265],[9114,0.256],[9127,0.265],[9138.8,0.274],[9144,0.364],[9148,0.337],[9154.5,0.391],[9159.7,0.283],[9172.7,0.278],[9185.8,0.274],[9198.8,0.283],[9205.3,0.31],[9210.6,0.355],[9214.5,0.31],[9218.4,0.382],[9222.3,0.292],[9232.7,0.283],[9238,0.292],[9243,0.319],[9247,0.292],[9254.9,0.31],[9258.8,0.301],[9264,0.283],[9269.2,0.292],[9274.5,0.31],[9279.7,0.382],[9283.6,0.364],[9288.8,0.364],[9295.3,0.355]
];

// Model (blue): flat zero across the observed range
const modelWave = [4753.5, 9295.3];
const modelFlux = [0, 0];

const xTicks = [5000, 6000, 7000, 8000, 9000];
const yTicks = [-0.6, -0.4, -0.2, 0, 0.2, 0.4, 0.6];
const titleText = "Spectrum of object 30920 in candels-cdfs-35";
const xLabelText = "Wavelength";

const W = 3000, H = 900, mL = 375, mR = 300, mT = 108, mB = 99;
const model = modelWave.map((w, i) => ({w, f: modelFlux[i]}));

const chart = Plot.plot({
  width: W, height: H,
  marginLeft: mL, marginRight: mR, marginTop: mT, marginBottom: mB,
  style: {fontFamily: "'DejaVu Sans', sans-serif", background: "white", color: "black", overflow: "visible"},
  x: {domain: [4749, 9300]},
  y: {domain: [-0.747, 0.638]},
  marks: [
    Plot.line(model, {x: "w", y: "f", stroke: "#0000ff", strokeWidth: 6.25, clip: true}),
    Plot.line(errorPoints, {x: d => d[0], y: d => d[1], stroke: "#008000", strokeWidth: 1.5, clip: true}),
    Plot.line(fluxPoints, {x: d => d[0], y: d => d[1], stroke: "#000000", strokeWidth: 4.2, clip: true}),
    Plot.frame({stroke: "black", strokeWidth: 2.7}),
    Plot.axisX({ticks: xTicks, tickFormat: d3.format("d"), tickSize: 15, tickPadding: 16, fontSize: 28, label: null, strokeWidth: 2.7}),
    Plot.axisY({ticks: yTicks, tickFormat: d3.format(".1f"), tickSize: 15, tickPadding: 17, fontSize: 34, label: null, strokeWidth: 2.7})
  ]
});
document.getElementById("chart").appendChild(chart);

const svg = d3.select(chart);
const cx = mL + (W - mL - mR) / 2;
svg.append("text").attr("x", cx).attr("y", 80).attr("text-anchor", "middle")
  .attr("font-family", "'DejaVu Sans', sans-serif").attr("font-size", 50).attr("fill", "black").text(titleText);
svg.append("text").attr("x", cx).attr("y", 886).attr("text-anchor", "middle")
  .attr("font-family", "'DejaVu Sans', sans-serif").attr("font-size", 32).attr("fill", "black").text(xLabelText);

const yl = svg.append("text")
  .attr("transform", `translate(224,${mT + (H - mT - mB) / 2}) rotate(-90)`)
  .attr("text-anchor", "middle").attr("font-family", "'DejaVu Sans', sans-serif")
  .attr("font-size", 42).attr("fill", "black");
const parts = [["10", 0], ["\u221218", 1], [" erg s", 0], ["\u22121", 1], [" cm", 0], ["\u22122", 1], [" \u00C5", 0], ["\u22121", 1]];
let raised = false;
for (const [t, sup] of parts) {
  const ts = yl.append("tspan").text(t);
  if (sup) { ts.attr("font-size", 31).attr("dx", 5).attr("dy", raised ? 0 : -15.5); raised = true; }
  else { ts.attr("font-size", 42).attr("dx", 2).attr("dy", raised ? 15.5 : 0); raised = false; }
}
</script></body></html>
